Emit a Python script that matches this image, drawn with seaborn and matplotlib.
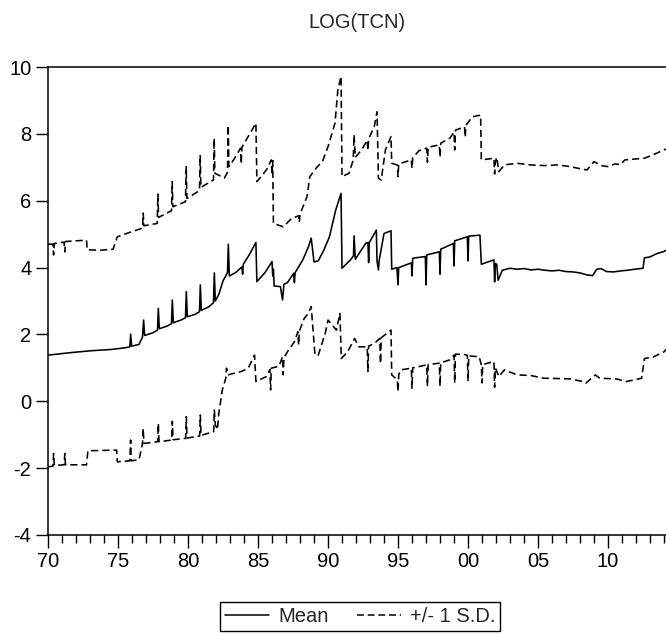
"""
LOG(TCN): mean with +/- 1 S.D. bands (EViews style chart).
"""

import matplotlib
matplotlib.use('Agg')
import matplotlib.pyplot as plt
import seaborn as sns
from matplotlib.lines import Line2D
from matplotlib.ticker import MultipleLocator, FixedLocator

# mean series vertices: (year, value)
mean_pts = [
    (1970.0, 1.38), (1971.5, 1.45), (1973.0, 1.51), (1974.5, 1.55), (1975.5, 1.60),
    (1975.85, 1.63), (1975.9, 2.01), (1975.97, 1.65), (1976.5, 1.70), (1976.75, 1.92),
    (1976.83, 2.43), (1976.9, 1.97), (1977.5, 2.05), (1977.82, 2.13), (1977.88, 2.78),
    (1977.95, 2.17), (1978.5, 2.25), (1978.82, 2.32), (1978.88, 3.03), (1978.95, 2.35),
    (1979.5, 2.43), (1979.82, 2.50), (1979.88, 3.28), (1979.95, 2.53), (1980.5, 2.60),
    (1980.82, 2.68), (1980.88, 3.48), (1980.95, 2.72), (1981.5, 2.83), (1981.82, 2.95),
    (1981.88, 3.84), (1981.95, 3.00), (1982.2, 3.20), (1982.5, 3.60), (1982.82, 3.85),
    (1982.88, 4.70), (1982.95, 3.75), (1983.4, 3.85), (1983.85, 4.02), (1983.9, 3.80),
    (1983.95, 4.10), (1984.4, 4.40), (1984.85, 4.75), (1984.92, 3.58), (1985.5, 3.85),
    (1986.0, 4.18), (1986.05, 3.75), (1986.1, 3.95), (1986.15, 3.45), (1986.6, 3.43),
    (1986.75, 3.03), (1986.85, 3.50), (1987.1, 3.55), (1987.55, 3.83), (1987.6, 3.55),
    (1987.65, 3.85), (1988.2, 4.23), (1988.6, 4.62), (1988.8, 4.88), (1989.0, 4.17),
    (1989.3, 4.20), (1989.7, 4.52), (1990.1, 4.92), (1990.55, 5.72), (1990.93, 6.22),
    (1991.0, 3.98), (1991.6, 4.23), (1991.82, 4.35), (1991.86, 4.95), (1991.95, 4.25),
    (1992.7, 4.73), (1992.85, 4.75), (1992.9, 4.15), (1992.95, 4.75), (1993.45, 5.12),
    (1993.5, 4.20), (1993.6, 3.93), (1993.65, 4.20), (1994.0, 5.02), (1994.5, 5.10),
    (1994.55, 3.95), (1994.92, 4.00), (1995.0, 3.48), (1995.05, 4.00), (1995.95, 4.14),
    (1996.0, 3.75), (1996.05, 4.28), (1996.95, 4.33), (1997.0, 3.48), (1997.05, 4.38),
    (1997.95, 4.47), (1998.0, 3.80), (1998.05, 4.55), (1998.95, 4.72), (1999.0, 4.05),
    (1999.05, 4.80), (1999.95, 4.92), (2000.0, 4.20), (2000.05, 4.94), (2000.85, 4.97),
    (2000.95, 4.10), (2001.85, 4.23), (2001.9, 3.57), (2001.95, 4.12), (2002.05, 4.10),
    (2002.15, 3.62), (2002.45, 3.92), (2003.0, 3.98), (2003.5, 3.95), (2004.0, 3.97),
    (2004.5, 3.93), (2005.0, 3.95), (2005.5, 3.92), (2006.0, 3.90), (2006.5, 3.92),
    (2007.0, 3.88), (2007.5, 3.87), (2008.0, 3.84), (2008.5, 3.78), (2008.9, 3.76),
    (2009.2, 3.95), (2009.5, 3.97), (2009.9, 3.88), (2010.4, 3.87), (2010.9, 3.90),
    (2011.4, 3.92), (2011.9, 3.95), (2012.5, 3.98), (2012.6, 4.29), (2013.0, 4.32),
    (2013.5, 4.42), (2014.0, 4.48), (2014.14, 4.52),
]

# upper band (+1 S.D.)
upper_pts = [
    (1970.0, 4.70), (1970.35, 4.70), (1970.4, 4.38), (1970.45, 4.72), (1971.15, 4.76),
    (1971.2, 4.47), (1971.25, 4.78), (1972.75, 4.82), (1972.8, 4.53), (1973.8, 4.52),
    (1974.65, 4.55), (1974.95, 4.92), (1975.95, 5.07), (1976.75, 5.18), (1976.8, 5.63),
    (1976.85, 5.25), (1977.8, 5.32), (1977.85, 6.20), (1977.9, 5.50), (1978.82, 5.70),
    (1978.87, 6.57), (1978.92, 5.82), (1979.82, 5.97), (1979.87, 7.02), (1979.92, 6.07),
    (1980.82, 6.30), (1980.87, 7.37), (1980.92, 6.40), (1981.82, 6.62), (1981.87, 7.87),
    (1981.92, 6.82), (1982.6, 6.68), (1982.82, 6.85), (1982.87, 8.26), (1982.92, 7.02),
    (1983.3, 7.25), (1983.75, 7.57), (1983.8, 7.10), (1983.85, 7.60), (1984.2, 7.85),
    (1984.85, 8.32), (1984.92, 6.57), (1985.6, 6.92), (1985.95, 7.22), (1986.0, 6.77),
    (1986.05, 7.20), (1986.1, 5.32), (1986.8, 5.22), (1987.4, 5.47), (1987.9, 5.55),
    (1987.95, 5.35), (1988.0, 5.60), (1988.5, 6.12), (1988.7, 6.72), (1989.2, 7.00),
    (1989.6, 7.17), (1990.0, 7.62), (1990.5, 8.32), (1990.7, 9.31), (1990.93, 9.72),
    (1991.0, 6.72), (1991.5, 6.82), (1991.8, 7.22), (1991.86, 7.97), (1991.95, 7.30),
    (1992.4, 7.52), (1992.8, 7.81), (1992.85, 7.50), (1992.9, 7.85), (1993.3, 8.21),
    (1993.5, 8.66), (1993.6, 6.67), (1993.8, 6.62), (1994.1, 7.52), (1994.5, 7.92),
    (1994.55, 7.12), (1994.95, 7.07), (1995.0, 6.72), (1995.05, 7.10), (1995.95, 7.22),
    (1996.0, 6.97), (1996.05, 7.28), (1996.5, 7.50), (1997.05, 7.57), (1997.1, 7.15),
    (1997.15, 7.60), (1997.95, 7.67), (1998.0, 7.30), (1998.05, 7.72), (1998.7, 7.87),
    (1999.0, 8.05), (1999.05, 7.52), (1999.1, 8.11), (1999.75, 8.21), (1999.8, 7.90),
    (1999.85, 8.25), (2000.3, 8.51), (2000.9, 8.56), (2000.95, 7.22), (2001.85, 7.27),
    (2001.9, 6.80), (2001.95, 7.15), (2002.05, 7.30), (2002.2, 6.87), (2002.6, 7.07),
    (2003.5, 7.12), (2004.5, 7.07), (2005.5, 7.05), (2006.4, 7.07), (2007.3, 7.02),
    (2008.2, 6.94), (2008.5, 6.92), (2009.0, 7.17), (2009.5, 7.05), (2010.0, 7.02),
    (2010.5, 7.10), (2010.9, 7.08), (2011.2, 7.22), (2012.0, 7.25), (2012.6, 7.27),
    (2013.2, 7.37), (2014.0, 7.52), (2014.14, 7.55),
]

# lower band (-1 S.D.)
lower_pts = [
    (1970.0, -1.96), (1970.35, -1.94), (1970.4, -1.56), (1970.45, -1.92), (1971.15, -1.90),
    (1971.2, -1.56), (1971.25, -1.90), (1972.75, -1.90), (1972.85, -1.48), (1974.9, -1.46),
    (1974.95, -1.81), (1975.85, -1.78), (1975.9, -1.16), (1975.95, -1.78), (1976.5, -1.75),
    (1976.75, -1.26), (1976.8, -0.81), (1976.85, -1.26), (1977.83, -1.21), (1977.88, -0.66),
    (1977.93, -1.21), (1978.83, -1.16), (1978.88, -0.60), (1978.93, -1.15), (1979.83, -1.11),
    (1979.88, -0.46), (1979.93, -1.10), (1980.83, -1.04), (1980.88, -0.41), (1980.93, -1.02),
    (1981.83, -0.91), (1981.88, -0.26), (1981.95, -0.70), (1982.1, -0.85), (1982.2, -0.36),
    (1982.45, 0.34), (1982.7, 0.69), (1982.75, 0.99), (1982.85, 0.79), (1983.8, 0.89),
    (1984.3, 0.99), (1984.75, 1.38), (1984.85, 0.59), (1985.6, 0.74), (1985.85, 0.95),
    (1985.9, 0.34), (1985.95, 0.99), (1986.5, 1.05), (1986.75, 1.33), (1986.8, 0.79),
    (1986.85, 1.30), (1987.1, 1.48), (1987.6, 1.78), (1987.85, 2.08), (1987.9, 1.68),
    (1987.95, 2.10), (1988.3, 2.48), (1988.6, 2.63), (1988.8, 2.83), (1989.07, 1.38),
    (1989.3, 1.38), (1989.8, 2.03), (1990.0, 2.43), (1990.6, 2.13), (1990.85, 2.63),
    (1990.95, 1.28), (1991.4, 1.48), (1991.9, 1.88), (1992.2, 1.63), (1992.8, 1.63),
    (1992.85, 0.89), (1992.9, 1.65), (1993.3, 1.73), (1993.7, 1.88), (1993.75, 1.13),
    (1993.8, 1.90), (1994.5, 2.13), (1994.55, 0.79), (1994.95, 0.64), (1995.0, 0.29),
    (1995.05, 0.80), (1995.2, 0.94), (1995.95, 0.99), (1996.0, 0.39), (1996.05, 1.00),
    (1997.05, 1.09), (1997.1, 0.45), (1997.15, 1.10), (1997.95, 1.14), (1998.0, 0.45),
    (1998.05, 1.15), (1998.7, 1.24), (1999.0, 1.38), (1999.05, 0.55), (1999.1, 1.41),
    (1999.7, 1.40), (1999.95, 1.38), (2000.0, 0.60), (2000.05, 1.36), (2000.8, 1.33),
    (2000.95, 1.09), (2001.0, 0.55), (2001.05, 1.10), (2001.85, 1.19), (2001.9, 0.42),
    (2001.95, 1.00), (2002.2, 0.74), (2002.6, 0.94), (2003.5, 0.79), (2004.5, 0.77),
    (2005.4, 0.69), (2006.5, 0.68), (2007.3, 0.67), (2008.2, 0.59), (2008.4, 0.54),
    (2009.1, 0.79), (2009.4, 0.69), (2010.6, 0.67), (2011.3, 0.59), (2012.4, 0.69),
    (2012.6, 1.28), (2013.2, 1.32), (2014.0, 1.48), (2014.14, 1.55),
]

x_ticks = [1970, 1975, 1980, 1985, 1990, 1995, 2000, 2005, 2010]
x_labels = ['70', '75', '80', '85', '90', '95', '00', '05', '10']
y_ticks = [-4, -2, 0, 2, 4, 6, 8, 10]

sns.set_style('ticks')
plt.rcParams['font.family'] = ['Liberation Sans', 'DejaVu Sans']

fig = plt.figure(figsize=(6.66, 6.37), dpi=100)
ax = fig.add_axes([48 / 666, 102 / 637, 618 / 666, 468 / 637])

dash = (4.5, 2.5)
for pts, style in [(upper_pts, 'dash'), (lower_pts, 'dash'), (mean_pts, 'solid')]:
    xs = [p[0] for p in pts]
    ys = [p[1] for p in pts]
    sns.lineplot(x=xs, y=ys, color='black', linewidth=1.15, ax=ax,
                 estimator=None, sort=False)
    if style == 'dash':
        ax.lines[-1].set_dashes(dash)

ax.set_xlim(1970, 2014.14)
ax.set_ylim(-4, 10)
ax.xaxis.set_major_locator(FixedLocator(x_ticks))
ax.set_xticklabels(x_labels)
ax.xaxis.set_minor_locator(MultipleLocator(1))
ax.set_yticks(y_ticks)
ax.set_yticklabels([str(v) for v in y_ticks])
ax.tick_params(axis='both', which='major', direction='out', length=9, width=1,
               labelsize=14.5, pad=3, color='black', labelcolor='black')
ax.tick_params(axis='x', which='minor', direction='out', length=6, width=1, color='black')
ax.spines['right'].set_visible(False)
for s in ['left', 'top', 'bottom']:
    ax.spines[s].set_linewidth(1.1)
    ax.spines[s].set_color('black')
ax.set_xlabel('')
ax.set_ylabel('')

fig.text(357 / 666, 1 - 22 / 637, 'LOG(TCN)', ha='center', va='center', fontsize=14.5)

handles = [
    Line2D([], [], color='black', linewidth=1.1),
    Line2D([], [], color='black', linewidth=1.1, dashes=(4.5, 2.5)),
]
leg = fig.legend(handles, ['Mean', '+/- 1 S.D.'], loc='upper center',
                 bbox_to_anchor=(360 / 666, 1 - 602 / 637), ncol=2, fontsize=14.5,
                 frameon=True, fancybox=False, edgecolor='black', framealpha=1,
                 handlelength=2.2, handletextpad=0.45, columnspacing=1.4,
                 borderpad=0.25, borderaxespad=0)
leg.get_frame().set_linewidth(1.0)

fig.savefig('out.png', dpi=100)
